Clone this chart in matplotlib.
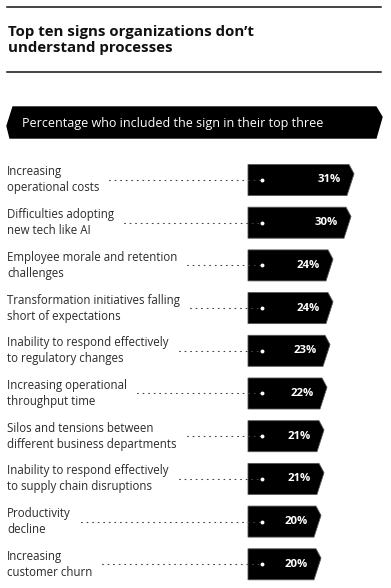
import matplotlib
matplotlib.use("Agg")
import matplotlib.pyplot as plt
from matplotlib.patches import Polygon
from matplotlib.lines import Line2D

plt.rcParams['font.family'] = ['Open Sans', 'DejaVu Sans']

TITLE = "Top ten signs organizations don\u2019t\nunderstand processes"
BANNER = "Percentage who included the sign in their top three"

labels = [
    "Increasing\noperational costs",
    "Difficulties adopting\nnew tech like AI",
    "Employee morale and retention\nchallenges",
    "Transformation initiatives falling\nshort of expectations",
    "Inability to respond effectively\nto regulatory changes",
    "Increasing operational\nthroughput time",
    "Silos and tensions between\ndifferent business departments",
    "Inability to respond effectively\nto supply chain disruptions",
    "Productivity\ndecline",
    "Increasing\ncustomer churn",
]
values = [31, 30, 24, 24, 23, 22, 21, 21, 20, 20]

W, H = 391, 588
fig = plt.figure(figsize=(W / 100, H / 100), dpi=100)
ax = fig.add_axes([0, 0, 1, 1])
# x: 1 unit = 3 px, value 0 at px 261 ; y: row units, 42.7 px per row, row 0 at px 180
ax.set_xlim(-261 / 3, (W - 261) / 3)
ax.set_ylim((H - 180) / 42.7, -180 / 42.7)
ax.axis('off')

def px(x):
    return x / W

def py(y):
    return 1 - y / H

# rules and title
fig.add_artist(Line2D([px(7), px(381)], [py(7), py(7)], color='#111111', lw=1.1))
fig.add_artist(Line2D([px(7), px(381)], [py(72), py(72)], color='#111111', lw=1.1))
fig.text(px(8), py(40), TITLE, fontsize=10.8, fontweight='bold', va='center', ha='left',
         linespacing=1.2, color='#111111')

# banner
bx = [px(13), px(376), px(382), px(376), px(10), px(7)]
by = [py(107), py(107), py(117), py(138), py(138), py(126)]
fig.add_artist(Polygon(list(zip(bx, by)), closed=True, color='black', transform=fig.transFigure))
fig.text(px(22), py(123), BANNER, fontsize=9.0, color='white', va='center', ha='left')

bar_h = 31 / 42.7
left = -13 / 3
fig.canvas.draw()
r = fig.canvas.get_renderer()
inv = ax.transData.inverted()
for i, (lab, v) in enumerate(zip(labels, values)):
    top, bot = i - bar_h / 2, i + bar_h / 2
    pts = [(left, top), (v - 5 / 3, top), (v, top + bar_h * 0.3),
           (v - 7 / 3, bot), (left, bot)]
    ax.add_patch(Polygon(pts, closed=True, facecolor='black', edgecolor='#555555', lw=0.6))
    t = ax.text(-254 / 3, i, lab, fontsize=8.3, color='#2b2b2b', va='center', ha='left',
                linespacing=1.3)
    ext = t.get_window_extent(renderer=r)
    xend = inv.transform((ext.x1, 0))[0]
    ax.plot([xend + 10 / 3, 1 / 3], [i, i], color='#444444', lw=0.8,
            linestyle=(0, (0.8, 4.2)), dash_capstyle='round')
    ax.plot(1 / 3, i, 'o', color='white', ms=2.8, mec='none')
    ax.text(v - 13 / 3, i, f"{v}%", fontsize=8.2, fontweight='bold', color='white',
            va='center', ha='right')

fig.savefig('out.png', dpi=100, facecolor='white')
